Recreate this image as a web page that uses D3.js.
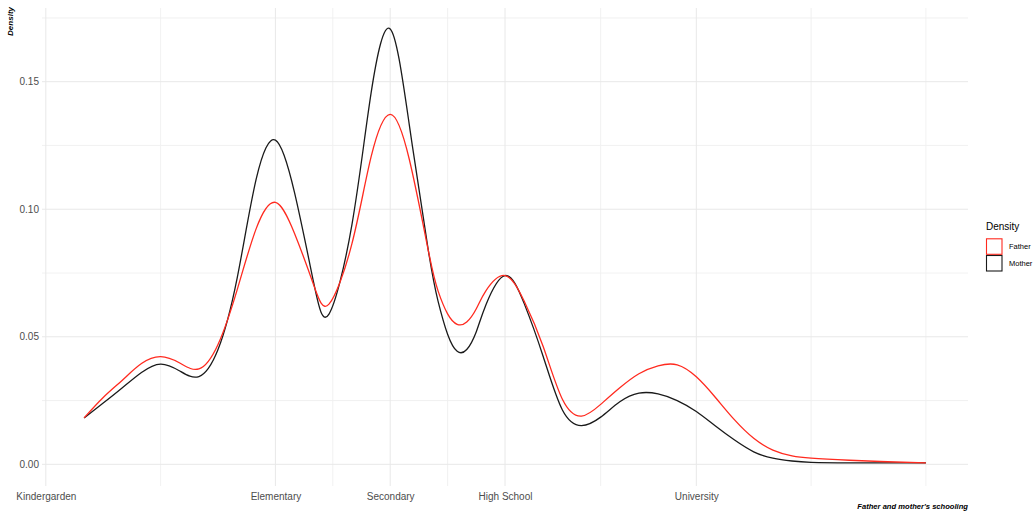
<!DOCTYPE html>
<html>
<head>
<meta charset="utf-8">
<script src="https://cdn.jsdelivr.net/npm/d3@7"></script>
<style>
  html, body { margin: 0; padding: 0; background: #fff; }
  svg { display: block; font-family: "Liberation Sans", Arial, sans-serif; }
</style>
</head>
<body>
<svg id="chart" width="1035" height="514"></svg>
<script>
// ---- data (years of schooling vs. density) ----
const schooling = [1,1.5,2,2.5,3,3.5,4,4.5,5,5.5,6,6.5,7,7.4,8,8.5,9,9.5,10,10.25,10.5,10.75,11,11.25,11.5,12,12.5,13,13.5,14,14.5,15,15.5,16,16.5,17,17.5,18,18.5,19,19.5,20,21,22,23];
const fatherDensity = [0.0182,0.0262,0.0330,0.0395,0.0422,0.0397,0.0374,0.0470,0.0684,0.0925,0.1027,0.0905,0.0703,0.0628,0.0865,0.1205,0.1372,0.1195,0.0835,0.0680,0.0590,0.0549,0.0558,0.0610,0.0680,0.0740,0.0640,0.0461,0.0255,0.0189,0.0235,0.0300,0.0355,0.0386,0.0390,0.0343,0.0262,0.0174,0.0102,0.0056,0.0033,0.0024,0.0016,0.0010,0.0006];
const motherDensity = [0.0182,0.0240,0.0300,0.0360,0.0393,0.0366,0.0344,0.0450,0.0730,0.1120,0.1271,0.1065,0.0712,0.0589,0.0940,0.1455,0.1707,0.1330,0.0835,0.0640,0.0510,0.0443,0.0450,0.0520,0.0625,0.0740,0.0631,0.0422,0.0213,0.0152,0.0185,0.0245,0.0279,0.0276,0.0250,0.0207,0.0150,0.0095,0.0049,0.0024,0.0013,0.0008,0.0006,0.0006,0.0006];
const seriesNames = ["Father", "Mother"];
const seriesColors = ["#ff2a1f", "#1a1a1a"];
const xBreaks = [0, 6, 9, 12, 17];
const xLabels = ["Kindergarden", "Elementary", "Secondary", "High School", "University"];
const xMinorBreaks = [3, 7.5, 10.5, 14.5, 20, 23];
const yBreaks = [0, 0.05, 0.10, 0.15];
const yMinorBreaks = [0.025, 0.075, 0.125, 0.175];

// ---- layout ----
const svg = d3.select("#chart");
const x = d3.scaleLinear().domain([-0.1, 24.1]).range([42, 968]);
const y = d3.scaleLinear().domain([-0.0085, 0.1789]).range([486, 8]);

const grid = svg.append("g");
xMinorBreaks.forEach(v => grid.append("line")
  .attr("x1", x(v)).attr("x2", x(v)).attr("y1", y.range()[0]).attr("y2", y.range()[1])
  .attr("stroke", "#efefef").attr("stroke-width", 0.9));
yMinorBreaks.forEach(v => grid.append("line")
  .attr("x1", x.range()[0]).attr("x2", x.range()[1]).attr("y1", y(v)).attr("y2", y(v))
  .attr("stroke", "#efefef").attr("stroke-width", 0.9));
xBreaks.forEach(v => grid.append("line")
  .attr("x1", x(v)).attr("x2", x(v)).attr("y1", y.range()[0]).attr("y2", y.range()[1])
  .attr("stroke", "#e8e8e8").attr("stroke-width", 1));
yBreaks.forEach(v => grid.append("line")
  .attr("x1", x.range()[0]).attr("x2", x.range()[1]).attr("y1", y(v)).attr("y2", y(v))
  .attr("stroke", "#e8e8e8").attr("stroke-width", 1));

// axes via d3 axis, then styled
const xAxis = svg.append("g").attr("transform", `translate(0,${y.range()[0]})`)
  .call(d3.axisBottom(x).tickValues(xBreaks).tickFormat((d, i) => xLabels[i]).tickSize(0).tickPadding(7));
xAxis.select(".domain").remove();
xAxis.selectAll("text").attr("fill", "#4d4d4d").attr("font-size", "10px")
  .attr("font-family", "Liberation Sans, Arial, sans-serif");

const yAxis = svg.append("g").attr("transform", `translate(${x.range()[0]},0)`)
  .call(d3.axisLeft(y).tickValues(yBreaks).tickFormat(d3.format(".2f")).tickSize(0).tickPadding(3));
yAxis.select(".domain").remove();
yAxis.selectAll("text").attr("fill", "#4d4d4d").attr("font-size", "10px")
  .attr("font-family", "Liberation Sans, Arial, sans-serif");

// density lines
const line = d3.line().x(d => x(d[0])).y(d => y(d[1])).curve(d3.curveNatural);
const seriesValues = [fatherDensity, motherDensity];
[1, 0].forEach(i => {
  svg.append("path")
    .datum(schooling.map((s, j) => [s, seriesValues[i][j]]))
    .attr("d", line)
    .attr("fill", "none")
    .attr("stroke", seriesColors[i])
    .attr("stroke-width", 1.3);
});

// axis titles
svg.append("text")
  .attr("transform", "translate(13,7) rotate(-90)")
  .attr("text-anchor", "end")
  .attr("font-size", "8px").attr("font-weight", "bold").attr("font-style", "italic")
  .attr("fill", "#000")
  .text("Density");
svg.append("text")
  .attr("x", 968).attr("y", 509)
  .attr("text-anchor", "end")
  .attr("font-size", "7.6px").attr("font-weight", "bold").attr("font-style", "italic")
  .attr("fill", "#000")
  .text("Father and mother's schooling");

// legend
const legend = svg.append("g");
legend.append("text").attr("x", 986).attr("y", 230).attr("font-size", "10px").attr("fill", "#000").text("Density");
seriesNames.forEach((name, i) => {
  const top = 238.8 + i * 16.7;
  legend.append("rect").attr("x", 986.5).attr("y", top).attr("width", 15.5).attr("height", 15.5)
    .attr("fill", "#fff").attr("stroke", seriesColors[i]).attr("stroke-width", 1.1);
  legend.append("text").attr("x", 1009).attr("y", top + 8).attr("dy", "0.35em")
    .attr("font-size", "7.5px").attr("fill", "#000").text(name);
});
</script>
</body>
</html>
